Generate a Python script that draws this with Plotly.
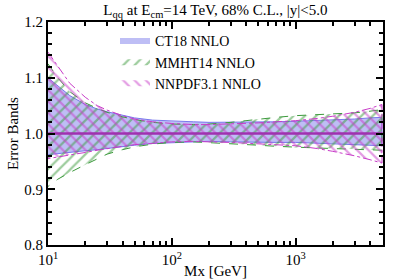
import plotly.graph_objects as go

mx = [10, 12, 15, 20, 25, 30, 40, 50, 70, 100, 150, 200, 300, 500, 700, 1000, 1500, 2000, 3000, 4000, 5000]

ct18_up = [1.100, 1.085, 1.068, 1.052, 1.044, 1.039, 1.033, 1.028, 1.024, 1.022, 1.021, 1.020, 1.020, 1.021, 1.021, 1.022, 1.023, 1.024, 1.026, 1.028, 1.029]
ct18_lo = [0.962, 0.964, 0.966, 0.969, 0.971, 0.973, 0.976, 0.979, 0.982, 0.984, 0.985, 0.986, 0.985, 0.984, 0.984, 0.984, 0.983, 0.982, 0.980, 0.979, 0.978]

mmht_up = [1.125, 1.100, 1.075, 1.055, 1.045, 1.038, 1.030, 1.025, 1.020, 1.017, 1.016, 1.017, 1.020, 1.026, 1.029, 1.032, 1.034, 1.035, 1.037, 1.040, 1.043]
mmht_lo = [0.905, 0.918, 0.930, 0.944, 0.955, 0.963, 0.971, 0.976, 0.981, 0.984, 0.985, 0.984, 0.982, 0.979, 0.977, 0.975, 0.974, 0.973, 0.972, 0.971, 0.970]

nnpdf_up = [1.146, 1.120, 1.090, 1.065, 1.050, 1.042, 1.032, 1.026, 1.021, 1.018, 1.016, 1.016, 1.017, 1.019, 1.021, 1.023, 1.027, 1.031, 1.038, 1.045, 1.052]
nnpdf_lo = [0.955, 0.958, 0.962, 0.966, 0.970, 0.973, 0.977, 0.980, 0.983, 0.985, 0.986, 0.985, 0.984, 0.982, 0.980, 0.978, 0.973, 0.968, 0.960, 0.953, 0.947]

central = [1.0] * len(mx)

x_ticks = [10, 100, 1000]
x_ticktext = ["10<sup>1</sup>", "10<sup>2</sup>", "10<sup>3</sup>"]
x_minor = [20, 30, 40, 50, 60, 70, 80, 90, 200, 300, 400, 500, 600, 700, 800, 900, 2000, 3000, 4000, 5000]
y_ticks = [0.8, 0.9, 1.0, 1.1, 1.2]
y_ticktext = ["0.8", "0.9", "1.0", "1.1", "1.2"]

FONT = "Times New Roman, Liberation Serif, serif"

GREEN = "#3c9a3c"
MAG = "#c83cc8"

def band(up, lo):
    return mx + mx[::-1], up + lo[::-1]

fig = go.Figure()

bx, by = band(ct18_up, ct18_lo)
fig.add_trace(go.Scatter(x=bx, y=by, fill="toself", mode="none",
                         fillcolor="rgba(125,125,235,0.5)",
                         name="CT18 NNLO"))
fig.add_trace(go.Scatter(x=bx, y=by, mode="lines", showlegend=False,
                         line=dict(color="rgba(110,110,235,0.9)", width=1)))

bx, by = band(mmht_up, mmht_lo)
fig.add_trace(go.Scatter(x=bx, y=by, fill="toself", mode="none",
                         fillcolor="rgba(0,0,0,0)",
                         fillpattern=dict(shape="/", fgcolor=GREEN, bgcolor="rgba(0,0,0,0)", size=8, solidity=0.28),
                         name="MMHT14 NNLO"))
fig.add_trace(go.Scatter(x=bx, y=by, mode="lines", showlegend=False,
                         line=dict(color=GREEN, width=1, dash="dash")))

bx, by = band(nnpdf_up, nnpdf_lo)
fig.add_trace(go.Scatter(x=bx, y=by, fill="toself", mode="none",
                         fillcolor="rgba(0,0,0,0)",
                         fillpattern=dict(shape="\\", fgcolor=MAG, bgcolor="rgba(0,0,0,0)", size=8, solidity=0.28),
                         name="NNPDF3.1 NNLO"))
fig.add_trace(go.Scatter(x=bx, y=by, mode="lines", showlegend=False,
                         line=dict(color=MAG, width=1, dash="dashdot")))

fig.add_trace(go.Scatter(x=mx, y=central, mode="lines",
                         line=dict(color="#a030b0", width=2.5), showlegend=False))

fig.update_layout(
    width=399, height=279,
    margin=dict(l=48, r=16, t=22, b=34, autoexpand=False),
    paper_bgcolor="white", plot_bgcolor="white",
    font=dict(family=FONT, size=15, color="black"),
    title=dict(text="L<sub>qq</sub> at E<sub>cm</sub>=14 TeV, 68% C.L., |y|<5.0",
               x=0.54, xanchor="center", y=0.985, yanchor="top",
               font=dict(family=FONT, size=15)),
    showlegend=True,
    legend=dict(x=0.2, y=0.985, xanchor="left", yanchor="top",
                bgcolor="rgba(0,0,0,0)", font=dict(family=FONT, size=14),
                itemsizing="constant", tracegroupgap=0),
)

fig.update_xaxes(type="log", range=[1, 3.707], automargin=False,
                 tickmode="array", tickvals=x_ticks, ticktext=x_ticktext,
                 ticks="inside", ticklen=7, tickwidth=1.5, tickcolor="black",
                 minor=dict(tickmode="array", tickvals=x_minor, ticks="inside", ticklen=4, tickcolor="black"),
                 showline=True, linecolor="black", linewidth=2, mirror="ticks",
                 showgrid=False, zeroline=False,
                 title=dict(text="Mx [GeV]", standoff=0, font=dict(family=FONT, size=15)))

fig.update_yaxes(range=[0.8, 1.2], automargin=False,
                 tickmode="array", tickvals=y_ticks, ticktext=y_ticktext,
                 ticks="inside", ticklen=7, tickwidth=1.5, tickcolor="black",
                 minor=dict(dtick=0.02, ticks="inside", ticklen=4, tickcolor="black"),
                 showline=True, linecolor="black", linewidth=2, mirror="ticks",
                 showgrid=False, zeroline=False,
                 title=dict(text="Error Bands", standoff=2, font=dict(family=FONT, size=15)))

fig.write_html("out.html", config={"displayModeBar": False},
               post_script="document.body.style.margin='0';document.body.style.overflow='hidden';")
